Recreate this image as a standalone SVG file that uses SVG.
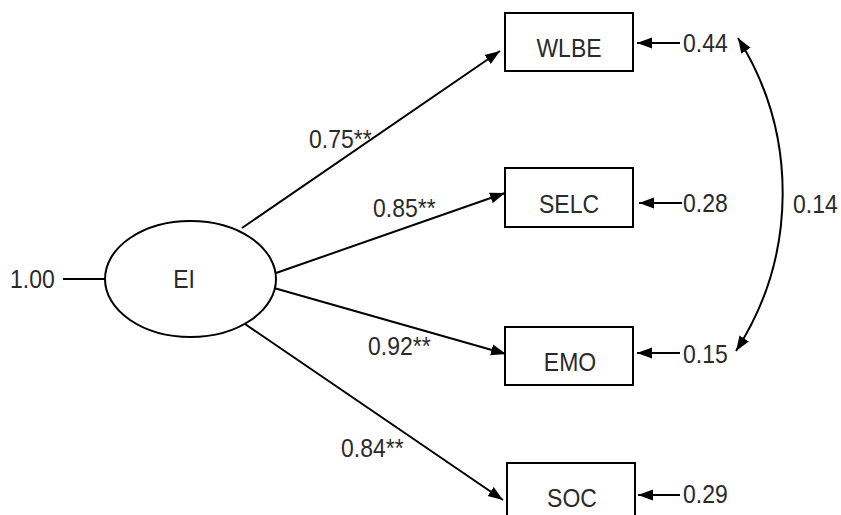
<svg xmlns="http://www.w3.org/2000/svg" width="841" height="515" viewBox="0 0 841 515">
<style>
text{font-family:"Liberation Sans",Arial,sans-serif;font-size:25px;fill:#2a2a2a}
.c{text-anchor:middle}
.box{fill:#fff;stroke:#000;stroke-width:2}
.ln{fill:none;stroke:#000;stroke-width:2}
</style>
<defs>
<marker id="ah" markerUnits="userSpaceOnUse" markerWidth="16" markerHeight="12" refX="15" refY="6" orient="auto-start-reverse" viewBox="0 0 16 12">
<path d="M0,0.5 L15,6 L0,11.5 z" fill="#000"/>
</marker>
</defs>
<rect width="841" height="515" fill="#fff"/>
<g id="connectors">
<line class="ln" x1="63" y1="279" x2="105" y2="279"/>
<line class="ln" x1="242" y1="228" x2="500" y2="51" marker-end="url(#ah)"/>
<line class="ln" x1="276" y1="273" x2="505" y2="193" marker-end="url(#ah)"/>
<line class="ln" x1="274" y1="288" x2="506" y2="354" marker-end="url(#ah)"/>
<line class="ln" x1="245" y1="324" x2="503" y2="500" marker-end="url(#ah)"/>
<line class="ln" x1="680" y1="43" x2="637" y2="43" marker-end="url(#ah)"/>
<line class="ln" x1="682" y1="203" x2="639" y2="203" marker-end="url(#ah)"/>
<line class="ln" x1="680" y1="353" x2="637" y2="353" marker-end="url(#ah)"/>
<line class="ln" x1="680" y1="495" x2="638" y2="495" marker-end="url(#ah)"/>
<path class="ln" d="M738,38 A291,291 0 0,1 736,351" marker-start="url(#ah)" marker-end="url(#ah)"/>
<text transform="translate(309,148) scale(0.92,1)">0.75**</text>
<text transform="translate(373,217) scale(0.92,1)">0.85**</text>
<text transform="translate(368,355) scale(0.92,1)">0.92**</text>
<text transform="translate(341,457) scale(0.92,1)">0.84**</text>
<text transform="translate(683,52) scale(0.92,1)">0.44</text>
<text transform="translate(683,212) scale(0.92,1)">0.28</text>
<text transform="translate(683,363) scale(0.92,1)">0.15</text>
<text transform="translate(683,503) scale(0.92,1)">0.29</text>
<text transform="translate(793,213) scale(0.92,1)">0.14</text>
<text transform="translate(10,288) scale(0.92,1)">1.00</text>
</g>
<g id="EI">
<ellipse cx="190.5" cy="279" rx="85.5" ry="58" class="box"/>
<text class="c" transform="translate(184,288) scale(0.92,1)">EI</text>
</g>
<g id="WLBE">
<rect x="505" y="13" width="128" height="58" class="box"/>
<text class="c" transform="translate(569,57) scale(0.92,1)">WLBE</text>
</g>
<g id="SELC">
<rect x="505" y="168" width="128" height="59" class="box"/>
<text class="c" transform="translate(569,213) scale(0.92,1)">SELC</text>
</g>
<g id="EMO">
<rect x="505" y="327" width="128" height="58" class="box"/>
<text class="c" transform="translate(570,371) scale(0.92,1)">EMO</text>
</g>
<g id="SOC">
<rect x="507" y="463" width="128" height="60" class="box"/>
<text class="c" transform="translate(572,507) scale(0.92,1)">SOC</text>
</g>
</svg>
